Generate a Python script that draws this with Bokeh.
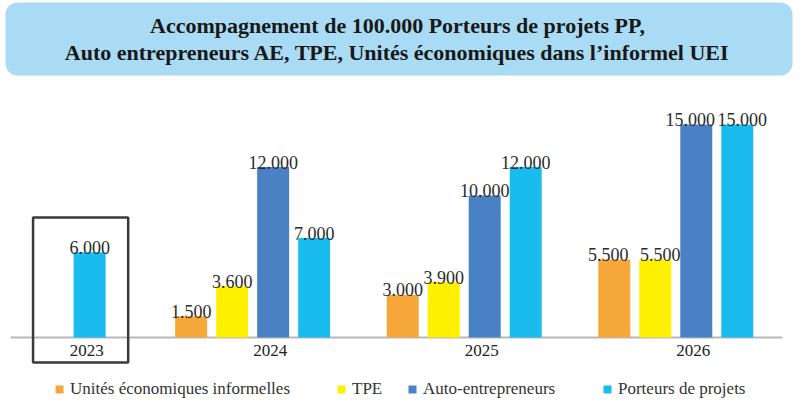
from bokeh.plotting import figure
from bokeh.models import ColumnDataSource, Range1d, Label, BoxAnnotation, Legend, LegendItem
from bokeh.core.properties import value
from bokeh.embed import file_html
from bokeh.resources import INLINE

# ---------------- data ----------------
years = ["2023", "2024", "2025", "2026"]
series_names = ["Unités économiques informelles", "TPE", "Auto-entrepreneurs", "Porteurs de projets"]
uei = [None, 1500, 3000, 5500]
tpe = [None, 3600, 3900, 5500]
ae = [None, 12000, 10000, 15000]
pp = [6000, 7000, 12000, 15000]
highlight_year = "2023"
title_lines = [
    "Accompagnement de 100.000 Porteurs de projets PP,",
    "Auto entrepreneurs AE, TPE, Unités économiques dans l’informel UEI",
]

# ---------------- style ----------------
colors = ["#F6A73A", "#FFF000", "#4A80C4", "#1ABBED"]
GROUP_STEP = 5.16      # distance between consecutive year groups (bar units)
HIGHLIGHT_GAP = 0.316  # extra room after the highlighted first year
BAR_W = 0.78
SERIF = "Liberation Serif"
W, H = 800, 400
X0 = 0.826


def fmt(v):
    return f"{v:,}".replace(",", ".")


def xpos(yi, si):
    return yi * GROUP_STEP + si + (HIGHLIGHT_GAP if yi > 0 else 0)


p = figure(width=W, height=H, output_backend="svg", toolbar_location=None,
           x_range=Range1d(X0, X0 + W / 41.0), y_range=Range1d(-4437, 23732),
           x_axis_location=None, y_axis_location=None, min_border=0,
           outline_line_color=None, background_fill_color="white", border_fill_color="white")
p.grid.grid_line_color = None

# title band
p.add_layout(BoxAnnotation(left=5, right=792, top=H - 2, bottom=H - 75,
                           left_units="screen", right_units="screen",
                           top_units="screen", bottom_units="screen",
                           fill_color="#A9DCF4", fill_alpha=1.0, line_color=None,
                           border_radius=12, level="underlay"))
for i, line in enumerate(title_lines):
    p.add_layout(Label(x=397, y=H - 25 - 27 * i, x_units="screen", y_units="screen",
                       text=line, text_align="center", text_baseline="middle",
                       text_font=SERIF, text_font_style="bold", text_font_size="22px",
                       text_color="#181818"))

# baseline
p.add_layout(BoxAnnotation(left=10, right=782, left_units="screen", right_units="screen",
                           top=0, bottom=0, fill_alpha=0, line_color="#B8B8B8",
                           line_alpha=1.0, line_width=2, level="underlay"))

all_series = [uei, tpe, ae, pp]
renderers = []
for si, (name, vals, col) in enumerate(zip(series_names, all_series, colors)):
    xs, ys, labels, dx = [], [], [], []
    for yi, v in enumerate(vals):
        if v is None:
            continue
        # nudge labels apart when a neighbour bar has the same height
        shift = 0
        if si > 0 and all_series[si - 1][yi] == v:
            shift += 5
        if si < 3 and all_series[si + 1][yi] == v:
            shift -= 6
        xs.append(xpos(yi, si))
        ys.append(v)
        labels.append(fmt(v))
        dx.append(shift)
    src = ColumnDataSource(dict(x=xs, top=ys, label=labels, dx=dx))
    r = p.vbar(x="x", top="top", bottom=0, width=BAR_W, source=src,
               fill_color=col, line_color=None)
    p.text(x="x", y="top", text="label", x_offset="dx", y_offset=-5, source=src,
           text_align="center", text_baseline="alphabetic",
           text_font=value(SERIF), text_font_size="18px", text_color="#2b2b2b")
    renderers.append(r)

# year labels (under the Auto-entrepreneurs bar, or the single bar)
yx = []
for yi, yr in enumerate(years):
    si = 2 if ae[yi] is not None else 3
    yx.append(xpos(yi, si))
ysrc = ColumnDataSource(dict(x=yx, y=[0] * len(years), t=years))
p.text(x="x", y="y", text="t", source=ysrc, y_offset=13, x_offset=-3, text_align="center",
       text_baseline="middle", text_font=value(SERIF), text_font_size="17px",
       text_color="#222222")

# highlight box around 2023
hi = years.index(highlight_year)
hx = xpos(hi, 3)
p.add_layout(BoxAnnotation(left=hx - 1.38, right=hx + 0.94, top=pp[hi] + 2450, bottom=-1760,
                           fill_alpha=0, line_color="#3a3a3a", line_alpha=1.0, line_width=2.5))

# legends
legend_x = [54, 336, 407, 602]
for r, name, lx in zip(renderers, series_names, legend_x):
    lg = Legend(items=[LegendItem(label=name, renderers=[r])], location=(lx, 1),
                orientation="horizontal", padding=0, margin=0, spacing=0,
                glyph_width=10, glyph_height=10, label_standoff=6, label_height=16,
                label_text_font=SERIF, label_text_font_size="17px",
                label_text_color="#333333", border_line_color=None,
                background_fill_alpha=0)
    p.add_layout(lg)

open("out.html", "w").write(file_html(p, INLINE))
